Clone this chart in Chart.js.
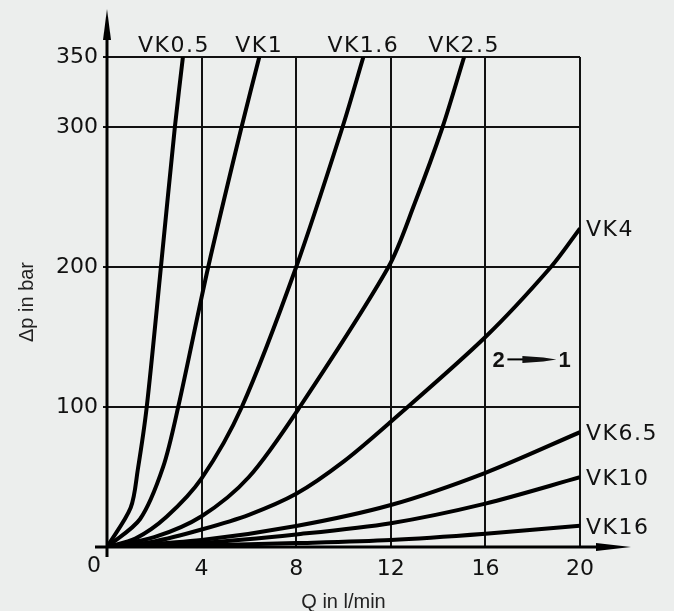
<!DOCTYPE html>
<html>
<head>
<meta charset="utf-8">
<script src="https://cdn.jsdelivr.net/npm/chart.js@4.4.0/dist/chart.umd.min.js"></script>
<style>
  html, body { margin: 0; padding: 0; background: #eceeed; }
  #caixa { width: 674px; height: 611px; }
</style>
</head>
<body>
<div id="caixa"><canvas id="grafico"></canvas></div>
<script>
// valores (Q em l/min, delta p em bar)
const vk05Q = [0, 1.0, 1.3, 1.68, 2.28, 2.87, 3.21]
const vk05P = [0, 28, 55, 100, 200, 300, 350]

const vk1Q = [0, 1.4, 2.37, 3.01, 4.28, 5.69, 6.44]
const vk1P = [0, 20, 57, 100, 200, 300, 350]

const vk1_6Q = [0, 1.2, 2.52, 4, 5.7, 8, 9.96, 10.84]
const vk1_6P = [0, 6, 21.6, 49, 100, 200, 300, 350]

const vk2_5Q = [0, 2, 4, 6, 8.15, 11.9, 13, 14.19, 15.1]
const vk2_5P = [0, 7, 22, 50, 100, 200, 245, 300, 350]

const vk4Q = [0, 2, 4, 6, 8, 10, 12, 16, 18.77, 20]
const vk4P = [0, 4, 12.5, 23, 38, 61, 89.5, 150, 200, 227.6]

const vk6_5Q = [0, 4, 8, 12, 16, 20]
const vk6_5P = [0, 5, 15, 30, 53, 82]

const vk10Q = [0, 4, 8, 12, 16, 20]
const vk10P = [0, 3, 9, 17, 31, 49.8]

const vk16Q = [0, 4, 8, 12, 16, 20]
const vk16P = [0, 1.2, 2.8, 5, 9.5, 15.2]

const nomes = ['VK0.5', 'VK1', 'VK1.6', 'VK2.5', 'VK4', 'VK6.5', 'VK10', 'VK16']
const series = [
    [vk05Q, vk05P], [vk1Q, vk1P], [vk1_6Q, vk1_6P], [vk2_5Q, vk2_5P],
    [vk4Q, vk4P], [vk6_5Q, vk6_5P], [vk10Q, vk10P], [vk16Q, vk16P]
]

const xTicks = [0, 4, 8, 12, 16, 20]
const yTicks = [0, 100, 200, 300, 350]

const fonteTec = 'DejaVu Sans'
const fonteTit = 'Liberation Sans'

const datasets = series.map((s, i) => ({
    label: nomes[i],
    data: s[0].map((q, j) => ({ x: q, y: s[1][j] })),
    borderColor: '#000',
    borderWidth: 4,
    pointRadius: 0,
    fill: false,
    tension: 0.3
}))

// fundo, eixos com setas, nomes das curvas e o "2 -> 1"
const desenho = {
    id: 'desenho',
    beforeDraw(chart) {
        const ctx = chart.ctx
        ctx.save()
        ctx.fillStyle = '#eceeed'
        ctx.fillRect(0, 0, chart.width, chart.height)
        ctx.restore()
    },
    afterDraw(chart) {
        const ctx = chart.ctx
        const xs = chart.scales.x
        const ys = chart.scales.y
        const x0 = xs.getPixelForValue(0)
        const y0 = ys.getPixelForValue(0)
        ctx.save()
        ctx.strokeStyle = '#000'
        ctx.fillStyle = '#000'
        ctx.lineWidth = 3

        // eixo y
        ctx.beginPath()
        ctx.moveTo(x0, y0 + 10)
        ctx.lineTo(x0, 30)
        ctx.stroke()
        ctx.beginPath()
        ctx.moveTo(x0, 9)
        ctx.lineTo(x0 + 4, 40)
        ctx.lineTo(x0 - 4, 40)
        ctx.closePath()
        ctx.fill()

        // eixo x
        ctx.beginPath()
        ctx.moveTo(x0 - 12, y0)
        ctx.lineTo(605, y0)
        ctx.stroke()
        ctx.beginPath()
        ctx.moveTo(631, y0)
        ctx.lineTo(596, y0 - 4)
        ctx.lineTo(596, y0 + 4)
        ctx.closePath()
        ctx.fill()

        // "0" na origem
        ctx.fillStyle = '#111'
        ctx.font = '22px ' + fonteTec
        ctx.textAlign = 'center'
        ctx.textBaseline = 'alphabetic'
        ctx.fillText('0', x0 - 13, y0 + 25)

        // nomes das curvas
        ctx.letterSpacing = '1.5px'
        chart.data.datasets.forEach((ds, i) => {
            const ult = ds.data[ds.data.length - 1]
            const px = xs.getPixelForValue(ult.x)
            const py = ys.getPixelForValue(ult.y)
            if (ult.y >= 350) {
                ctx.textAlign = 'center'
                const dx = i === 0 ? -9 : 0
                ctx.fillText(ds.label, px + dx, py - 5)
            } else {
                ctx.textAlign = 'left'
                ctx.fillText(ds.label, px + 6, py + 8)
            }
        })
        ctx.letterSpacing = '0px'

        // 2 -> 1
        const bx = xs.getPixelForValue(16)
        const by = ys.getPixelForValue(134)
        ctx.font = 'bold 22px ' + fonteTit
        ctx.textAlign = 'left'
        ctx.fillText('2', bx + 7, by + 8)
        ctx.fillText('1', bx + 73, by + 8)
        ctx.lineWidth = 2
        ctx.beginPath()
        ctx.moveTo(bx + 22, by)
        ctx.lineTo(bx + 40, by)
        ctx.stroke()
        ctx.beginPath()
        ctx.moveTo(bx + 37, by - 3.5)
        ctx.lineTo(bx + 58, by - 2)
        ctx.lineTo(bx + 71, by)
        ctx.lineTo(bx + 58, by + 2)
        ctx.lineTo(bx + 37, by + 3.5)
        ctx.closePath()
        ctx.fill()
        ctx.restore()
    }
}

const ctx = document.getElementById('grafico')

const config = {
    type: 'line',
    data: { datasets },
    options: {
        responsive: true,
        maintainAspectRatio: false,
        animation: false,
        devicePixelRatio: 1,
        layout: {
            padding: { left: 0, right: 94, top: 57, bottom: 0 }
        },
        plugins: {
            legend: { display: false },
            tooltip: { enabled: false }
        },
        scales: {
            x: {
                type: 'linear',
                min: 0,
                max: 20,
                afterBuildTicks: (scale) => { scale.ticks = xTicks.map(v => ({ value: v })) },
                afterFit: (scale) => { scale.height = 64 },
                ticks: {
                    color: '#111',
                    font: { family: fonteTec, size: 22 },
                    padding: 9,
                    maxRotation: 0,
                    callback: (v) => v === 0 ? '' : v
                },
                grid: { color: '#111', lineWidth: 2, drawTicks: false },
                border: { display: false },
                title: {
                    display: true,
                    text: 'Q in l/min',
                    color: '#222',
                    font: { family: fonteTit, size: 20, lineHeight: 1 },
                    padding: { top: 0, bottom: -1 }
                }
            },
            y: {
                min: 0,
                max: 350,
                afterBuildTicks: (scale) => { scale.ticks = yTicks.map(v => ({ value: v })) },
                afterFit: (scale) => { scale.width = 107 },
                ticks: {
                    color: '#111',
                    font: { family: fonteTec, size: 22 },
                    padding: 5,
                    callback: (v) => v === 0 ? '' : v
                },
                grid: { color: '#111', lineWidth: 2, tickLength: 4 },
                border: { display: false },
                title: {
                    display: true,
                    text: 'Δp in bar',
                    color: '#222',
                    font: { family: fonteTit, size: 20, lineHeight: 1.2 },
                    padding: { top: 15, bottom: 0 }
                }
            }
        }
    },
    plugins: [desenho]
}

const grafico = new Chart(ctx, config)
</script>
</body>
</html>
